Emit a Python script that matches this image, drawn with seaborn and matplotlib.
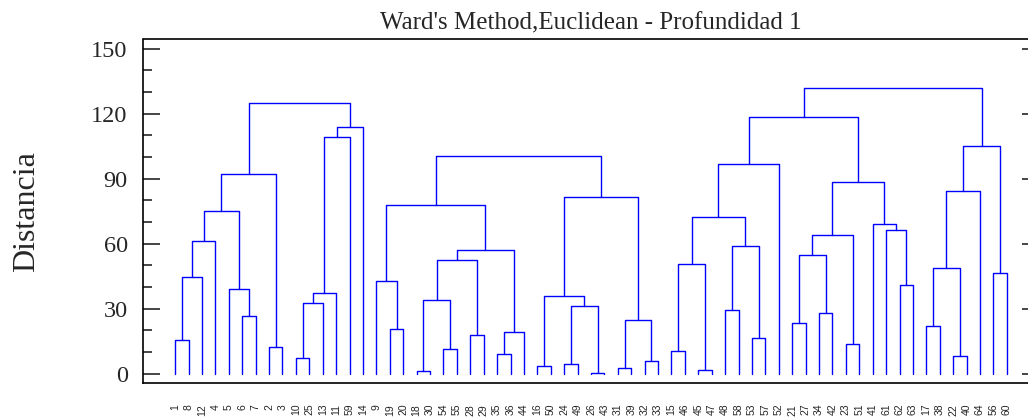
import pandas as pd
import seaborn as sns
import matplotlib.pyplot as plt
from matplotlib.ticker import MultipleLocator

# leaf order along the x axis
leaf_labels = ["1", "8", "12", "4", "5", "6", "7", "2", "3", "10",
               "25", "13", "11", "59", "14", "9", "19", "20", "18", "30",
               "54", "55", "28", "29", "35", "36", "44", "16", "50", "24",
               "49", "26", "43", "31", "39", "32", "33", "15", "46", "45",
               "47", "48", "58", "53", "57", "52", "21", "27", "34", "42",
               "23", "51", "41", "61", "62", "63", "17", "38", "22", "40",
               "64", "56", "60"]

# merges: ids < 63 are leaf positions, id 63+k is the cluster made by merge k
merge_a = [0, 63, 64, 5, 4, 65, 7, 68, 9, 71, 72, 73, 74, 70,
           16, 15, 18, 20, 79, 22, 81, 24, 84, 83, 78, 27, 29, 31, 89, 88, 33, 35, 93, 92, 87,
           37, 39, 98, 41, 43, 101, 100, 104, 46, 48, 106, 50, 108, 54, 53, 52, 110, 105,
           56, 58, 116, 118, 61, 119, 115]
merge_b = [1, 2, 3, 6, 66, 67, 8, 69, 10, 11, 12, 13, 14, 75,
           17, 77, 19, 21, 80, 23, 82, 25, 26, 85, 86, 28, 30, 32, 90, 91, 34, 36, 94, 95, 96,
           38, 40, 99, 42, 44, 102, 103, 45, 47, 49, 107, 51, 109, 55, 111, 112, 113, 114,
           57, 59, 117, 60, 62, 120, 121]
merge_h = [15.4, 44.6, 61.2, 26.4, 39.2, 75.1, 12.3, 92.3, 7.1, 32.5, 37.4, 109.2, 113.8, 124.9,
           20.6, 42.8, 1.1, 11.2, 33.8, 17.7, 52.4, 8.9, 19.1, 57.1, 78.0, 3.4, 4.4, 0.2, 31.1,
           35.8, 2.5, 5.8, 24.9, 81.4, 100.4,
           10.5, 1.5, 50.8, 29.5, 16.3, 59.1, 72.3, 96.6, 23.5, 28.0, 54.6, 13.7, 63.8, 40.9,
           66.2, 69.0, 88.3, 118.6, 22.2, 8.0, 48.6, 84.5, 46.6, 104.9, 132.0]

n = len(leaf_labels)
pos = {i: float(i) for i in range(n)}
top = {i: 0.0 for i in range(n)}
rows = []
for k, (a, b, h) in enumerate(zip(merge_a, merge_b, merge_h)):
    pts = [(pos[a], top[a]), (pos[a], h), (pos[b], h), (pos[b], top[b])]
    for j, (x, y) in enumerate(pts):
        rows.append({"link": k, "order": j, "x": x, "y": y})
    pos[n + k] = (pos[a] + pos[b]) / 2
    top[n + k] = h
df = pd.DataFrame(rows)

sns.set_style("white")
plt.rcParams["font.family"] = ["Liberation Serif", "DejaVu Serif"]

fig = plt.figure(figsize=(10.28, 4.19), dpi=100)
ax = fig.add_axes([143 / 1028, 1 - 383 / 419, (1039 - 143) / 1028, (383 - 39.5) / 419])

sns.lineplot(data=df, x="x", y="y", units="link", estimator=None, sort=False,
             color="#0000ff", lw=1.0, ax=ax)

ax.set_xlim(-2.4, 64.4)
ax.set_ylim(-4.3, 154.2)
ax.yaxis.set_major_locator(MultipleLocator(30))
ax.yaxis.set_minor_locator(MultipleLocator(10))
ax.set_xticks(range(n))
ax.set_xticklabels(leaf_labels, rotation=90, fontsize=7.5, family="Liberation Sans")
ax.tick_params(axis="x", length=0, pad=15)
ax.tick_params(axis="y", which="major", direction="in", length=12, width=1.2,
               labelsize=17.5, pad=11, left=True, right=True)
ax.tick_params(axis="y", which="minor", direction="in", length=6.5, width=1.2,
               left=True, right=True)
for s in ax.spines.values():
    s.set_linewidth(1.2)
    s.set_color("black")

ax.set_xlabel("")
ax.set_ylabel("Distancia", fontsize=23, labelpad=36)
ax.set_title("Ward's Method,Euclidean - Profundidad 1", fontsize=18, pad=7)

plt.savefig("out.png", dpi=100)
